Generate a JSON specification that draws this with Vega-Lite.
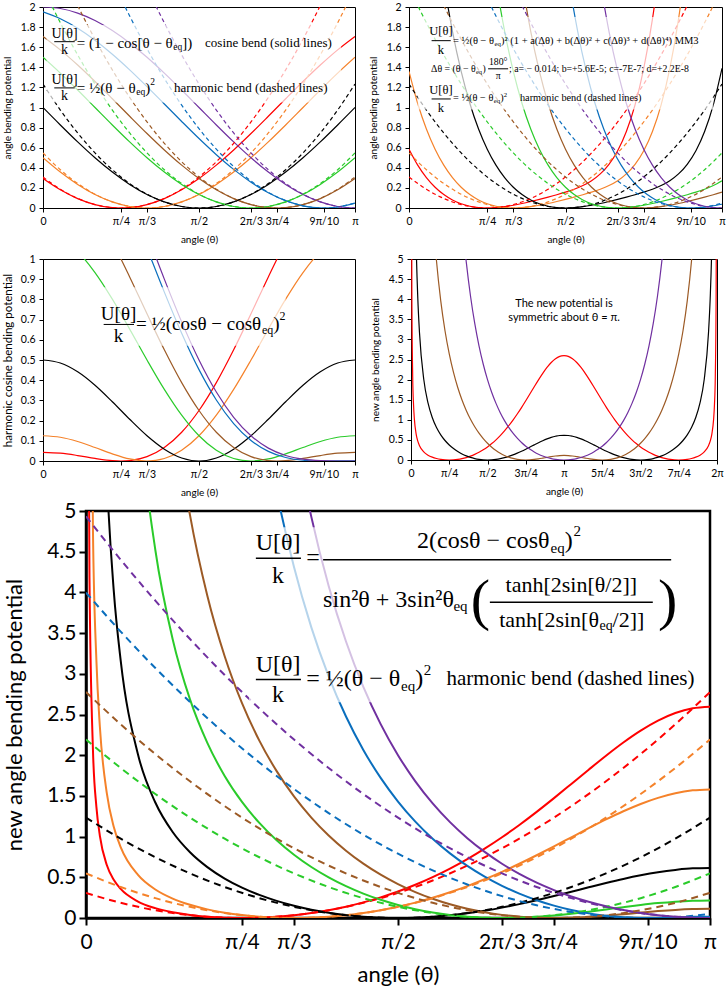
{
"$schema":"https://vega.github.io/schema/vega-lite/v6.json",
"background":"white",
"padding":{"left":1,"top":1,"right":0,"bottom":0},
"config":{"view":{"stroke":"#000","strokeWidth":1},
"axis":{"grid":false,"domainColor":"#000","tickColor":"#000","labelColor":"#000","titleColor":"#000","labelFont":"Lato","titleFont":"Lato","titleFontWeight":"normal","labelFontSize":10.5,"titleFontSize":10,"tickSize":4,"labelPadding":4,"titlePadding":8,"labelOverlap":false,"labelFlush":false},
"text":{"font":"Liberation Serif","color":"#000"}},
"datasets":{
"std":[
{"eq":45,"t":0,"h":0.308426,"c":0.292893,"hc":0.042893},{"eq":45,"t":10,"h":0.186579,"c":0.180848,"hc":0.038559},{"eq":45,"t":20,"h":0.095193,"c":0.093692,"hc":0.027047},{"eq":45,"t":30,"h":0.03427,"c":0.034074,"hc":0.012628},{"eq":45,"t":40,"h":0.003808,"c":0.003805,"hc":0.001736},{"eq":45,"t":45,"h":0,"c":0,"hc":0},{"eq":45,"t":50,"h":0.003808,"c":0.003805,"hc":0.002069},{"eq":45,"t":60,"h":0.03427,"c":0.034074,"hc":0.021447},{"eq":45,"t":70,"h":0.095193,"c":0.093692,"hc":0.066645},{"eq":45,"t":80,"h":0.186579,"c":0.180848,"hc":0.14229},{"eq":45,"t":90,"h":0.308426,"c":0.292893,"hc":0.25},{"eq":45,"t":100,"h":0.460735,"c":0.426424,"hc":0.387869},{"eq":45,"t":110,"h":0.643506,"c":0.577382,"hc":0.550337},{"eq":45,"t":120,"h":0.856738,"c":0.741181,"hc":0.728557},{"eq":45,"t":130,"h":1.100432,"c":0.912844,"hc":0.911115},{"eq":45,"t":140,"h":1.374589,"c":1.087156,"hc":1.085086},{"eq":45,"t":150,"h":1.679207,"c":1.258819,"hc":1.237385},{"eq":45,"t":160,"h":2.014287,"c":1.422618,"hc":1.355975},{"eq":45,"t":170,"h":2.379828,"c":1.573576,"hc":1.431297},{"eq":45,"t":180,"h":2.775832,"c":1.707107,"hc":1.457112},
{"eq":60,"t":0,"h":0.548312,"c":0.5,"hc":0.125},{"eq":60,"t":10,"h":0.380773,"c":0.357212,"hc":0.117522},{"eq":60,"t":20,"h":0.243694,"c":0.233956,"hc":0.096664},{"eq":60,"t":30,"h":0.137078,"c":0.133975,"hc":0.066989},{"eq":60,"t":40,"h":0.060924,"c":0.060307,"hc":0.035389},{"eq":60,"t":50,"h":0.015231,"c":0.015192,"hc":0.010194},{"eq":60,"t":60,"h":0,"c":0,"hc":0},{"eq":60,"t":70,"h":0.015231,"c":0.015192,"hc":0.012479},{"eq":60,"t":80,"h":0.060924,"c":0.060307,"hc":0.053252},{"eq":60,"t":90,"h":0.137078,"c":0.133975,"hc":0.125},{"eq":60,"t":100,"h":0.243694,"c":0.233956,"hc":0.226903},{"eq":60,"t":110,"h":0.380773,"c":0.357212,"hc":0.354499},{"eq":60,"t":120,"h":0.548312,"c":0.5,"hc":0.5},{"eq":60,"t":130,"h":0.746314,"c":0.65798,"hc":0.652985},{"eq":60,"t":140,"h":0.974778,"c":0.826352,"hc":0.801431},{"eq":60,"t":150,"h":1.233703,"c":1.0,"hc":0.933018},{"eq":60,"t":160,"h":1.52309,"c":1.173648,"hc":1.036358},{"eq":60,"t":170,"h":1.842939,"c":1.34202,"hc":1.10233},{"eq":60,"t":180,"h":2.19325,"c":1.5,"hc":1.125},
{"eq":90,"t":0,"h":1.233703,"c":1,"hc":0.5},{"eq":90,"t":10,"h":0.974778,"c":0.826352,"hc":0.484925},{"eq":90,"t":20,"h":0.746314,"c":0.65798,"hc":0.441511},{"eq":90,"t":30,"h":0.548312,"c":0.5,"hc":0.375},{"eq":90,"t":40,"h":0.380773,"c":0.357212,"hc":0.293409},{"eq":90,"t":50,"h":0.243694,"c":0.233956,"hc":0.206589},{"eq":90,"t":60,"h":0.137078,"c":0.133975,"hc":0.125},{"eq":90,"t":70,"h":0.060924,"c":0.060307,"hc":0.058489},{"eq":90,"t":80,"h":0.015231,"c":0.015192,"hc":0.015077},{"eq":90,"t":90,"h":0,"c":0,"hc":0},{"eq":90,"t":100,"h":0.015231,"c":0.015192,"hc":0.015077},{"eq":90,"t":110,"h":0.060924,"c":0.060307,"hc":0.058489},{"eq":90,"t":120,"h":0.137078,"c":0.133975,"hc":0.125},{"eq":90,"t":130,"h":0.243694,"c":0.233956,"hc":0.206589},{"eq":90,"t":140,"h":0.380773,"c":0.357212,"hc":0.293409},{"eq":90,"t":150,"h":0.548312,"c":0.5,"hc":0.375},{"eq":90,"t":160,"h":0.746314,"c":0.65798,"hc":0.441511},{"eq":90,"t":170,"h":0.974778,"c":0.826352,"hc":0.484925},{"eq":90,"t":180,"h":1.233703,"c":1,"hc":0.5},
{"eq":120,"t":0,"h":2.19325,"c":1.5,"hc":1.125},{"eq":120,"t":10,"h":1.842939,"c":1.34202,"hc":1.10233},{"eq":120,"t":20,"h":1.52309,"c":1.173648,"hc":1.036358},{"eq":120,"t":30,"h":1.233703,"c":1.0,"hc":0.933018},{"eq":120,"t":40,"h":0.974778,"c":0.826352,"hc":0.801431},{"eq":120,"t":50,"h":0.746314,"c":0.65798,"hc":0.652985},{"eq":120,"t":60,"h":0.548312,"c":0.5,"hc":0.5},{"eq":120,"t":70,"h":0.380773,"c":0.357212,"hc":0.354499},{"eq":120,"t":80,"h":0.243694,"c":0.233956,"hc":0.226903},{"eq":120,"t":90,"h":0.137078,"c":0.133975,"hc":0.125},{"eq":120,"t":100,"h":0.060924,"c":0.060307,"hc":0.053252},{"eq":120,"t":110,"h":0.015231,"c":0.015192,"hc":0.012479},{"eq":120,"t":120,"h":0,"c":0,"hc":0},{"eq":120,"t":130,"h":0.015231,"c":0.015192,"hc":0.010194},{"eq":120,"t":140,"h":0.060924,"c":0.060307,"hc":0.035389},{"eq":120,"t":150,"h":0.137078,"c":0.133975,"hc":0.066989},{"eq":120,"t":160,"h":0.243694,"c":0.233956,"hc":0.096664},{"eq":120,"t":170,"h":0.380773,"c":0.357212,"hc":0.117522},{"eq":120,"t":180,"h":0.548312,"c":0.5,"hc":0.125},
{"eq":135,"t":0,"h":2.775832,"c":1.707107,"hc":1.457112},{"eq":135,"t":10,"h":2.379828,"c":1.573576,"hc":1.431297},{"eq":135,"t":20,"h":2.014287,"c":1.422618,"hc":1.355975},{"eq":135,"t":30,"h":1.679207,"c":1.258819,"hc":1.237385},{"eq":135,"t":40,"h":1.374589,"c":1.087156,"hc":1.085086},{"eq":135,"t":50,"h":1.100432,"c":0.912844,"hc":0.911115},{"eq":135,"t":60,"h":0.856738,"c":0.741181,"hc":0.728557},{"eq":135,"t":70,"h":0.643506,"c":0.577382,"hc":0.550337},{"eq":135,"t":80,"h":0.460735,"c":0.426424,"hc":0.387869},{"eq":135,"t":90,"h":0.308426,"c":0.292893,"hc":0.25},{"eq":135,"t":100,"h":0.186579,"c":0.180848,"hc":0.14229},{"eq":135,"t":110,"h":0.095193,"c":0.093692,"hc":0.066645},{"eq":135,"t":120,"h":0.03427,"c":0.034074,"hc":0.021447},{"eq":135,"t":130,"h":0.003808,"c":0.003805,"hc":0.002069},{"eq":135,"t":135,"h":0,"c":0,"hc":0},{"eq":135,"t":140,"h":0.003808,"c":0.003805,"hc":0.001736},{"eq":135,"t":150,"h":0.03427,"c":0.034074,"hc":0.012628},{"eq":135,"t":160,"h":0.095193,"c":0.093692,"hc":0.027047},{"eq":135,"t":170,"h":0.186579,"c":0.180848,"hc":0.038559},{"eq":135,"t":180,"h":0.308426,"c":0.292893,"hc":0.042893},
{"eq":162,"t":0,"h":3.997392,"c":1.951057,"hc":1.903318},{"eq":162,"t":10,"h":3.518947,"c":1.882948,"hc":1.873796},{"eq":162,"t":20,"h":3.071159,"c":1.788011,"hc":1.787478},{"eq":162,"t":30,"h":2.653832,"c":1.669131,"hc":1.650908},{"eq":162,"t":40,"h":2.266967,"c":1.529919,"hc":1.474222},{"eq":162,"t":50,"h":1.910564,"c":1.374607,"hc":1.270179},{"eq":162,"t":60,"h":1.584622,"c":1.207912,"hc":1.052788},{"eq":162,"t":70,"h":1.289143,"c":1.034899,"hc":0.836028},{"eq":162,"t":80,"h":1.024126,"c":0.860828,"hc":0.632486},{"eq":162,"t":90,"h":0.78957,"c":0.690983,"hc":0.452258},{"eq":162,"t":100,"h":0.585476,"c":0.530528,"hc":0.302183},{"eq":162,"t":110,"h":0.411844,"c":0.384339,"hc":0.185465},{"eq":162,"t":120,"h":0.268673,"c":0.256855,"hc":0.101728},{"eq":162,"t":130,"h":0.155964,"c":0.151952,"hc":0.047515},{"eq":162,"t":140,"h":0.073718,"c":0.072816,"hc":0.017116},{"eq":162,"t":150,"h":0.021932,"c":0.021852,"hc":0.003615},{"eq":162,"t":160,"h":0.000609,"c":0.000609,"hc":0.000065},{"eq":162,"t":162,"h":0,"c":0,"hc":0},{"eq":162,"t":170,"h":0.009748,"c":0.009732,"hc":0.00057},{"eq":162,"t":180,"h":0.049348,"c":0.048943,"hc":0.001198},
{"eq":180,"t":0,"h":4.934812,"c":2,"hc":2},{"eq":180,"t":10,"h":4.40173,"c":1.984808,"hc":1.969735},{"eq":180,"t":20,"h":3.89911,"c":1.939693,"hc":1.881199},{"eq":180,"t":30,"h":3.426953,"c":1.866025,"hc":1.741034},{"eq":180,"t":40,"h":2.985256,"c":1.766044,"hc":1.559449},{"eq":180,"t":50,"h":2.574022,"c":1.642788,"hc":1.349379},{"eq":180,"t":60,"h":2.19325,"c":1.5,"hc":1.125},{"eq":180,"t":70,"h":1.842939,"c":1.34202,"hc":0.900509},{"eq":180,"t":80,"h":1.52309,"c":1.173648,"hc":0.688727},{"eq":180,"t":90,"h":1.233703,"c":1,"hc":0.5},{"eq":180,"t":100,"h":0.974778,"c":0.826352,"hc":0.341427},{"eq":180,"t":110,"h":0.746314,"c":0.65798,"hc":0.216469},{"eq":180,"t":120,"h":0.548312,"c":0.5,"hc":0.125},{"eq":180,"t":130,"h":0.380773,"c":0.357212,"hc":0.0638},{"eq":180,"t":140,"h":0.243694,"c":0.233956,"hc":0.027369},{"eq":180,"t":150,"h":0.137078,"c":0.133975,"hc":0.008974},{"eq":180,"t":160,"h":0.060924,"c":0.060307,"hc":0.001819},{"eq":180,"t":170,"h":0.015231,"c":0.015192,"hc":0.000115},{"eq":180,"t":180,"h":0,"c":0,"hc":0}
],
"mm3":[
{"eq":45,"t":0,"u":0.585208},{"eq":45,"t":5,"u":0.42664},{"eq":45,"t":10,"u":0.302562},{"eq":45,"t":15,"u":0.206593},{"eq":45,"t":20,"u":0.133701},{"eq":45,"t":25,"u":0.079903},{"eq":45,"t":30,"u":0.042018},{"eq":45,"t":35,"u":0.017463},{"eq":45,"t":40,"u":0.00408},{"eq":45,"t":45,"u":0},{"eq":45,"t":50,"u":0.003546},{"eq":45,"t":55,"u":0.013177},{"eq":45,"t":60,"u":0.027462},{"eq":45,"t":65,"u":0.045103},{"eq":45,"t":70,"u":0.064985},{"eq":45,"t":75,"u":0.086266},{"eq":45,"t":80,"u":0.108514},{"eq":45,"t":85,"u":0.131868},{"eq":45,"t":90,"u":0.157245},{"eq":45,"t":95,"u":0.186579},{"eq":45,"t":100,"u":0.223111},{"eq":45,"t":105,"u":0.2717},{"eq":45,"t":110,"u":0.339179},{"eq":45,"t":115,"u":0.434743},{"eq":45,"t":120,"u":0.570397},{"eq":45,"t":125,"u":0.761419},{"eq":45,"t":130,"u":1.026736},{"eq":45,"t":135,"u":1.390061},{"eq":45,"t":140,"u":1.879257},{"eq":45,"t":145,"u":2.528329},{"eq":45,"t":150,"u":3.37719},
{"eq":60,"t":0,"u":1.358673},{"eq":60,"t":5,"u":1.03996},{"eq":60,"t":10,"u":0.786296},{"eq":60,"t":15,"u":0.585208},{"eq":60,"t":20,"u":0.42664},{"eq":60,"t":25,"u":0.302562},{"eq":60,"t":30,"u":0.206593},{"eq":60,"t":35,"u":0.133701},{"eq":60,"t":40,"u":0.079903},{"eq":60,"t":45,"u":0.042018},{"eq":60,"t":50,"u":0.017463},{"eq":60,"t":55,"u":0.00408},{"eq":60,"t":60,"u":0},{"eq":60,"t":65,"u":0.003546},{"eq":60,"t":70,"u":0.013177},{"eq":60,"t":75,"u":0.027462},{"eq":60,"t":80,"u":0.045103},{"eq":60,"t":85,"u":0.064985},{"eq":60,"t":90,"u":0.086266},{"eq":60,"t":95,"u":0.108514},{"eq":60,"t":100,"u":0.131868},{"eq":60,"t":105,"u":0.157245},{"eq":60,"t":110,"u":0.186579},{"eq":60,"t":115,"u":0.223111},{"eq":60,"t":120,"u":0.2717},{"eq":60,"t":125,"u":0.339179},{"eq":60,"t":130,"u":0.434743},{"eq":60,"t":135,"u":0.570397},{"eq":60,"t":140,"u":0.761419},{"eq":60,"t":145,"u":1.026736},{"eq":60,"t":150,"u":1.390061},{"eq":60,"t":155,"u":1.879257},{"eq":60,"t":160,"u":2.528329},
{"eq":90,"t":15,"u":2.875555},{"eq":90,"t":20,"u":2.255898},{"eq":90,"t":25,"u":1.757769},{"eq":90,"t":30,"u":1.358673},{"eq":90,"t":35,"u":1.03996},{"eq":90,"t":40,"u":0.786296},{"eq":90,"t":45,"u":0.585208},{"eq":90,"t":50,"u":0.42664},{"eq":90,"t":55,"u":0.302562},{"eq":90,"t":60,"u":0.206593},{"eq":90,"t":65,"u":0.133701},{"eq":90,"t":70,"u":0.079903},{"eq":90,"t":75,"u":0.042018},{"eq":90,"t":80,"u":0.017463},{"eq":90,"t":85,"u":0.00408},{"eq":90,"t":90,"u":0},{"eq":90,"t":95,"u":0.003546},{"eq":90,"t":100,"u":0.013177},{"eq":90,"t":105,"u":0.027462},{"eq":90,"t":110,"u":0.045103},{"eq":90,"t":115,"u":0.064985},{"eq":90,"t":120,"u":0.086266},{"eq":90,"t":125,"u":0.108514},{"eq":90,"t":130,"u":0.131868},{"eq":90,"t":135,"u":0.157245},{"eq":90,"t":140,"u":0.186579},{"eq":90,"t":145,"u":0.223111},{"eq":90,"t":150,"u":0.2717},{"eq":90,"t":155,"u":0.339179},{"eq":90,"t":160,"u":0.434743},{"eq":90,"t":165,"u":0.570397},{"eq":90,"t":170,"u":0.761419},{"eq":90,"t":175,"u":1.026736},{"eq":90,"t":180,"u":1.390061},
{"eq":120,"t":45,"u":2.875555},{"eq":120,"t":50,"u":2.255898},{"eq":120,"t":55,"u":1.757769},{"eq":120,"t":60,"u":1.358673},{"eq":120,"t":65,"u":1.03996},{"eq":120,"t":70,"u":0.786296},{"eq":120,"t":75,"u":0.585208},{"eq":120,"t":80,"u":0.42664},{"eq":120,"t":85,"u":0.302562},{"eq":120,"t":90,"u":0.206593},{"eq":120,"t":95,"u":0.133701},{"eq":120,"t":100,"u":0.079903},{"eq":120,"t":105,"u":0.042018},{"eq":120,"t":110,"u":0.017463},{"eq":120,"t":115,"u":0.00408},{"eq":120,"t":120,"u":0},{"eq":120,"t":125,"u":0.003546},{"eq":120,"t":130,"u":0.013177},{"eq":120,"t":135,"u":0.027462},{"eq":120,"t":140,"u":0.045103},{"eq":120,"t":145,"u":0.064985},{"eq":120,"t":150,"u":0.086266},{"eq":120,"t":155,"u":0.108514},{"eq":120,"t":160,"u":0.131868},{"eq":120,"t":165,"u":0.157245},{"eq":120,"t":170,"u":0.186579},{"eq":120,"t":175,"u":0.223111},{"eq":120,"t":180,"u":0.2717},
{"eq":135,"t":60,"u":2.875555},{"eq":135,"t":65,"u":2.255898},{"eq":135,"t":70,"u":1.757769},{"eq":135,"t":75,"u":1.358673},{"eq":135,"t":80,"u":1.03996},{"eq":135,"t":85,"u":0.786296},{"eq":135,"t":90,"u":0.585208},{"eq":135,"t":95,"u":0.42664},{"eq":135,"t":100,"u":0.302562},{"eq":135,"t":105,"u":0.206593},{"eq":135,"t":110,"u":0.133701},{"eq":135,"t":115,"u":0.079903},{"eq":135,"t":120,"u":0.042018},{"eq":135,"t":125,"u":0.017463},{"eq":135,"t":130,"u":0.00408},{"eq":135,"t":135,"u":0},{"eq":135,"t":140,"u":0.003546},{"eq":135,"t":145,"u":0.013177},{"eq":135,"t":150,"u":0.027462},{"eq":135,"t":155,"u":0.045103},{"eq":135,"t":160,"u":0.064985},{"eq":135,"t":165,"u":0.086266},{"eq":135,"t":170,"u":0.108514},{"eq":135,"t":175,"u":0.131868},{"eq":135,"t":180,"u":0.157245},
{"eq":162,"t":87,"u":2.875555},{"eq":162,"t":92,"u":2.255898},{"eq":162,"t":97,"u":1.757769},{"eq":162,"t":102,"u":1.358673},{"eq":162,"t":107,"u":1.03996},{"eq":162,"t":112,"u":0.786296},{"eq":162,"t":117,"u":0.585208},{"eq":162,"t":122,"u":0.42664},{"eq":162,"t":127,"u":0.302562},{"eq":162,"t":132,"u":0.206593},{"eq":162,"t":137,"u":0.133701},{"eq":162,"t":142,"u":0.079903},{"eq":162,"t":147,"u":0.042018},{"eq":162,"t":152,"u":0.017463},{"eq":162,"t":157,"u":0.00408},{"eq":162,"t":162,"u":0},{"eq":162,"t":167,"u":0.003546},{"eq":162,"t":172,"u":0.013177},{"eq":162,"t":177,"u":0.027462},{"eq":162,"t":180,"u":0.03772},
{"eq":180,"t":105,"u":2.875555},{"eq":180,"t":110,"u":2.255898},{"eq":180,"t":115,"u":1.757769},{"eq":180,"t":120,"u":1.358673},{"eq":180,"t":125,"u":1.03996},{"eq":180,"t":130,"u":0.786296},{"eq":180,"t":135,"u":0.585208},{"eq":180,"t":140,"u":0.42664},{"eq":180,"t":145,"u":0.302562},{"eq":180,"t":150,"u":0.206593},{"eq":180,"t":155,"u":0.133701},{"eq":180,"t":160,"u":0.079903},{"eq":180,"t":165,"u":0.042018},{"eq":180,"t":170,"u":0.017463},{"eq":180,"t":175,"u":0.00408},{"eq":180,"t":180,"u":0}
],
"newpot":[
{"eq":45,"t":0.5,"u":8.41},{"eq":45,"t":1,"u":4.186},{"eq":45,"t":2,"u":2.072},{"eq":45,"t":3,"u":1.366},{"eq":45,"t":4,"u":1.01},{"eq":45,"t":6,"u":0.651},{"eq":45,"t":8,"u":0.4687},{"eq":45,"t":10,"u":0.3571},{"eq":45,"t":15,"u":0.2026},{"eq":45,"t":20,"u":0.1209},{"eq":45,"t":25,"u":0.07036},{"eq":45,"t":30,"u":0.03719},{"eq":45,"t":35,"u":0.01587},{"eq":45,"t":40,"u":0.00387},{"eq":45,"t":45,"u":0},{"eq":45,"t":50,"u":0.00378},{"eq":45,"t":55,"u":0.01508},{"eq":45,"t":60,"u":0.034},{"eq":45,"t":65,"u":0.06077},{"eq":45,"t":70,"u":0.09572},{"eq":45,"t":75,"u":0.13925},{"eq":45,"t":80,"u":0.1918},{"eq":45,"t":85,"u":0.25384},{"eq":45,"t":90,"u":0.32589},{"eq":45,"t":95,"u":0.40846},{"eq":45,"t":100,"u":0.50201},{"eq":45,"t":105,"u":0.60697},{"eq":45,"t":110,"u":0.72365},{"eq":45,"t":115,"u":0.85214},{"eq":45,"t":120,"u":0.99223},{"eq":45,"t":125,"u":1.14333},{"eq":45,"t":130,"u":1.30422},{"eq":45,"t":135,"u":1.473},{"eq":45,"t":140,"u":1.64688},{"eq":45,"t":145,"u":1.82206},{"eq":45,"t":150,"u":1.99364},{"eq":45,"t":155,"u":2.15572},{"eq":45,"t":160,"u":2.30168},{"eq":45,"t":165,"u":2.4247},{"eq":45,"t":170,"u":2.5182},{"eq":45,"t":175,"u":2.57667},{"eq":45,"t":180,"u":2.59658},
{"eq":60,"t":1,"u":9.635},{"eq":60,"t":2,"u":4.783},{"eq":60,"t":3,"u":3.163},{"eq":60,"t":4,"u":2.3496},{"eq":60,"t":6,"u":1.533},{"eq":60,"t":8,"u":1.1209},{"eq":60,"t":10,"u":0.8706},{"eq":60,"t":15,"u":0.5287},{"eq":60,"t":20,"u":0.3503},{"eq":60,"t":25,"u":0.2387},{"eq":60,"t":30,"u":0.1618},{"eq":60,"t":35,"u":0.1062},{"eq":60,"t":40,"u":0.06528},{"eq":60,"t":45,"u":0.0357},{"eq":60,"t":50,"u":0.01556},{"eq":60,"t":55,"u":0.00384},{"eq":60,"t":60,"u":0},{"eq":60,"t":65,"u":0.00379},{"eq":60,"t":70,"u":0.01514},{"eq":60,"t":75,"u":0.0341},{"eq":60,"t":80,"u":0.06078},{"eq":60,"t":85,"u":0.09534},{"eq":60,"t":90,"u":0.13795},{"eq":60,"t":95,"u":0.18877},{"eq":60,"t":100,"u":0.24794},{"eq":60,"t":105,"u":0.31552},{"eq":60,"t":110,"u":0.39145},{"eq":60,"t":115,"u":0.47555},{"eq":60,"t":120,"u":0.56738},{"eq":60,"t":125,"u":0.66622},{"eq":60,"t":130,"u":0.77098},{"eq":60,"t":135,"u":0.88012},{"eq":60,"t":140,"u":0.99158},{"eq":60,"t":145,"u":1.10279},{"eq":60,"t":150,"u":1.2106},{"eq":60,"t":155,"u":1.31134},{"eq":60,"t":160,"u":1.40118},{"eq":60,"t":165,"u":1.47621},{"eq":60,"t":170,"u":1.53282},{"eq":60,"t":175,"u":1.56805},{"eq":60,"t":180,"u":1.58002},
{"eq":90,"t":2,"u":16.78},{"eq":90,"t":4,"u":8.287},{"eq":90,"t":6,"u":5.448},{"eq":90,"t":8,"u":4.024},{"eq":90,"t":10,"u":3.165},{"eq":90,"t":15,"u":2.0086},{"eq":90,"t":20,"u":1.4187},{"eq":90,"t":25,"u":1.0561},{"eq":90,"t":30,"u":0.80776},{"eq":90,"t":35,"u":0.62536},{"eq":90,"t":40,"u":0.48507},{"eq":90,"t":45,"u":0.37377},{"eq":90,"t":50,"u":0.28377},{"eq":90,"t":55,"u":0.21036},{"eq":90,"t":60,"u":0.15052},{"eq":90,"t":65,"u":0.10226},{"eq":90,"t":70,"u":0.06425},{"eq":90,"t":75,"u":0.03557},{"eq":90,"t":80,"u":0.01559},{"eq":90,"t":85,"u":0.00385},{"eq":90,"t":90,"u":0},{"eq":90,"t":95,"u":0.00377},{"eq":90,"t":100,"u":0.01491},{"eq":90,"t":105,"u":0.03317},{"eq":90,"t":110,"u":0.05828},{"eq":90,"t":115,"u":0.08987},{"eq":90,"t":120,"u":0.12749},{"eq":90,"t":125,"u":0.17051},{"eq":90,"t":130,"u":0.21812},{"eq":90,"t":135,"u":0.26931},{"eq":90,"t":140,"u":0.32277},{"eq":90,"t":145,"u":0.37695},{"eq":90,"t":150,"u":0.43004},{"eq":90,"t":155,"u":0.48004},{"eq":90,"t":160,"u":0.52483},{"eq":90,"t":165,"u":0.56236},{"eq":90,"t":170,"u":0.5907},{"eq":90,"t":175,"u":0.61003},{"eq":90,"t":180,"u":0.61436},
{"eq":120,"t":10,"u":9.941},{"eq":120,"t":15,"u":6.335},{"eq":120,"t":20,"u":4.521},{"eq":120,"t":25,"u":3.4237},{"eq":120,"t":30,"u":2.6851},{"eq":120,"t":35,"u":2.1511},{"eq":120,"t":40,"u":1.7456},{"eq":120,"t":45,"u":1.4263},{"eq":120,"t":50,"u":1.168},{"eq":120,"t":55,"u":0.95498},{"eq":120,"t":60,"u":0.7769},{"eq":120,"t":65,"u":0.62667},{"eq":120,"t":70,"u":0.49936},{"eq":120,"t":75,"u":0.39136},{"eq":120,"t":80,"u":0.30003},{"eq":120,"t":85,"u":0.22337},{"eq":120,"t":90,"u":0.15984},{"eq":120,"t":95,"u":0.10824},{"eq":120,"t":100,"u":0.06759},{"eq":120,"t":105,"u":0.0371},{"eq":120,"t":110,"u":0.01608},{"eq":120,"t":115,"u":0.00392},{"eq":120,"t":120,"u":0},{"eq":120,"t":125,"u":0.00369},{"eq":120,"t":130,"u":0.01427},{"eq":120,"t":135,"u":0.03087},{"eq":120,"t":140,"u":0.05244},{"eq":120,"t":145,"u":0.07772},{"eq":120,"t":150,"u":0.1052},{"eq":120,"t":155,"u":0.13316},{"eq":120,"t":160,"u":0.15971},{"eq":120,"t":165,"u":0.18294},{"eq":120,"t":170,"u":0.20105},{"eq":120,"t":175,"u":0.21256},{"eq":120,"t":180,"u":0.21652},
{"eq":135,"t":20,"u":8.429},{"eq":135,"t":25,"u":6.339},{"eq":135,"t":30,"u":4.9487},{"eq":135,"t":35,"u":3.9577},{"eq":135,"t":40,"u":3.2156},{"eq":135,"t":45,"u":2.6393},{"eq":135,"t":50,"u":2.1794},{"eq":135,"t":55,"u":1.8045},{"eq":135,"t":60,"u":1.494},{"eq":135,"t":65,"u":1.2339},{"eq":135,"t":70,"u":1.0141},{"eq":135,"t":75,"u":0.82733},{"eq":135,"t":80,"u":0.66806},{"eq":135,"t":85,"u":0.53222},{"eq":135,"t":90,"u":0.41659},{"eq":135,"t":95,"u":0.31871},{"eq":135,"t":100,"u":0.2366},{"eq":135,"t":105,"u":0.16868},{"eq":135,"t":110,"u":0.1137},{"eq":135,"t":115,"u":0.07058},{"eq":135,"t":120,"u":0.03846},{"eq":135,"t":125,"u":0.01652},{"eq":135,"t":130,"u":0.00398},{"eq":135,"t":135,"u":0},{"eq":135,"t":140,"u":0.00362},{"eq":135,"t":145,"u":0.01366},{"eq":135,"t":150,"u":0.02867},{"eq":135,"t":155,"u":0.04688},{"eq":135,"t":160,"u":0.06625},{"eq":135,"t":165,"u":0.08454},{"eq":135,"t":170,"u":0.09957},{"eq":135,"t":175,"u":0.10945},{"eq":135,"t":180,"u":0.1129},
{"eq":162,"t":40,"u":9.994},{"eq":162,"t":45,"u":7.949},{"eq":162,"t":50,"u":6.4166},{"eq":162,"t":55,"u":5.2377},{"eq":162,"t":60,"u":4.3115},{"eq":162,"t":65,"u":3.5707},{"eq":162,"t":70,"u":2.9694},{"eq":162,"t":75,"u":2.4752},{"eq":162,"t":80,"u":2.0648},{"eq":162,"t":85,"u":1.7209},{"eq":162,"t":90,"u":1.4307},{"eq":162,"t":95,"u":1.1842},{"eq":162,"t":100,"u":0.974},{"eq":162,"t":105,"u":0.79417},{"eq":162,"t":110,"u":0.64005},{"eq":162,"t":115,"u":0.50801},{"eq":162,"t":120,"u":0.3952},{"eq":162,"t":125,"u":0.29933},{"eq":162,"t":130,"u":0.21869},{"eq":162,"t":135,"u":0.15195},{"eq":162,"t":140,"u":0.09818},{"eq":162,"t":145,"u":0.05669},{"eq":162,"t":150,"u":0.027},{"eq":162,"t":155,"u":0.00862},{"eq":162,"t":160,"u":0.00064},{"eq":162,"t":162,"u":0},{"eq":162,"t":165,"u":0.00125},{"eq":162,"t":170,"u":0.00719},{"eq":162,"t":175,"u":0.01383},{"eq":162,"t":180,"u":0.01669},
{"eq":180,"t":50,"u":9.198},{"eq":180,"t":55,"u":7.38},{"eq":180,"t":60,"u":6.0},{"eq":180,"t":65,"u":4.928},{"eq":180,"t":70,"u":4.0792},{"eq":180,"t":75,"u":3.3968},{"eq":180,"t":80,"u":2.8406},{"eq":180,"t":85,"u":2.3819},{"eq":180,"t":90,"u":2.0},{"eq":180,"t":95,"u":1.6793},{"eq":180,"t":100,"u":1.4082},{"eq":180,"t":105,"u":1.1776},{"eq":180,"t":110,"u":0.98058},{"eq":180,"t":115,"u":0.81172},{"eq":180,"t":120,"u":0.66667},{"eq":180,"t":125,"u":0.54198},{"eq":180,"t":130,"u":0.43488},{"eq":180,"t":135,"u":0.34315},{"eq":180,"t":140,"u":0.26496},{"eq":180,"t":145,"u":0.19883},{"eq":180,"t":150,"u":0.14359},{"eq":180,"t":155,"u":0.0983},{"eq":180,"t":160,"u":0.06218},{"eq":180,"t":165,"u":0.03466},{"eq":180,"t":170,"u":0.01531},{"eq":180,"t":175,"u":0.00382},{"eq":180,"t":180,"u":0}
]},
"concat":[
{"vconcat":[
{"hconcat":[
{"width":312,"height":201,"layer":[
{"data":{"name":"std"},"mark":{"type":"line","clip":true,"interpolate":"monotone","strokeWidth":1.2},"encoding":{"x":{"field":"t","type":"quantitative","title":"angle (θ)","scale":{"domain":[0,180],"nice":false},"axis":{"values":[0,45,60,90,120,135,162,180],"tickCount":20,"labelExpr":"datum.value==0?'0':datum.value==45?'π/4':datum.value==60?'π/3':datum.value==90?'π/2':datum.value==120?'2π/3':datum.value==135?'3π/4':datum.value==162?'9π/10':'π'"}},"y":{"field":"c","type":"quantitative","title":"angle bending potential","scale":{"domain":[0,2],"nice":false},"axis":{"values":[0,0.2,0.4,0.6,0.8,1,1.2,1.4,1.6,1.8,2],"tickCount":20,"format":"~g"}},"color":{"field":"eq","type":"nominal","scale":{"domain":[45,60,90,120,135,162,180],"range":["#FF0000","#F5822A","#000000","#2ACB2A","#9C5A25","#0A6EBD","#7030A0"]},"legend":null}}},
{"data":{"name":"std"},"mark":{"type":"line","clip":true,"interpolate":"monotone","strokeWidth":1.2,"strokeDash":[4,3]},"encoding":{"x":{"field":"t","type":"quantitative","title":"angle (θ)"},"y":{"field":"h","type":"quantitative","title":"angle bending potential"},"color":{"field":"eq","type":"nominal","scale":{"domain":[45,60,90,120,135,162,180],"range":["#FF0000","#F5822A","#000000","#2ACB2A","#9C5A25","#0A6EBD","#7030A0"]},"legend":null}}},
{"data":{"values":[{}]},"mark":{"type":"rect","fill":"white","opacity":0.7},"encoding":{"x":{"datum":2},"x2":{"datum":172},"y":{"datum":1.05},"y2":{"datum":1.82}}},
{"data":{"values":[{}]},"mark":{"type":"text","text":"U[θ]","fontSize":14},"encoding":{"x":{"datum":12.4},"y":{"datum":1.735}}},
{"data":{"values":[{}]},"mark":{"type":"rule","color":"#000"},"encoding":{"x":{"datum":6.5},"x2":{"datum":18.3},"y":{"datum":1.655}}},
{"data":{"values":[{}]},"mark":{"type":"text","text":"k","fontSize":14},"encoding":{"x":{"datum":12.4},"y":{"datum":1.575}}},
{"data":{"values":[{}]},"mark":{"type":"text","text":"= (1 − cos[θ − θ","fontSize":15,"align":"left"},"encoding":{"x":{"datum":19.5},"y":{"datum":1.645}}},
{"data":{"values":[{}]},"mark":{"type":"text","text":"eq","fontSize":9.5,"align":"left"},"encoding":{"x":{"datum":75.2},"y":{"datum":1.605}}},
{"data":{"values":[{}]},"mark":{"type":"text","text":"])","fontSize":15,"align":"left"},"encoding":{"x":{"datum":80.4},"y":{"datum":1.645}}},
{"data":{"values":[{}]},"mark":{"type":"text","text":"cosine bend (solid lines)","fontSize":13,"align":"left"},"encoding":{"x":{"datum":93.5},"y":{"datum":1.645}}},
{"data":{"values":[{}]},"mark":{"type":"text","text":"U[θ]","fontSize":14},"encoding":{"x":{"datum":12.4},"y":{"datum":1.275}}},
{"data":{"values":[{}]},"mark":{"type":"rule","color":"#000"},"encoding":{"x":{"datum":6.5},"x2":{"datum":18.3},"y":{"datum":1.195}}},
{"data":{"values":[{}]},"mark":{"type":"text","text":"k","fontSize":14},"encoding":{"x":{"datum":12.4},"y":{"datum":1.115}}},
{"data":{"values":[{}]},"mark":{"type":"text","text":"= ½(θ − θ","fontSize":15,"align":"left"},"encoding":{"x":{"datum":19.5},"y":{"datum":1.195}}},
{"data":{"values":[{}]},"mark":{"type":"text","text":"eq","fontSize":9.5,"align":"left"},"encoding":{"x":{"datum":53.8},"y":{"datum":1.155}}},
{"data":{"values":[{}]},"mark":{"type":"text","text":")","fontSize":15,"align":"left"},"encoding":{"x":{"datum":59.0},"y":{"datum":1.195}}},
{"data":{"values":[{}]},"mark":{"type":"text","text":"2","fontSize":9.5,"align":"left"},"encoding":{"x":{"datum":61.9},"y":{"datum":1.255}}},
{"data":{"values":[{}]},"mark":{"type":"text","text":"harmonic bend (dashed lines)","fontSize":13,"align":"left"},"encoding":{"x":{"datum":75.6},"y":{"datum":1.195}}}
]},
{"width":313,"height":201,"layer":[
{"data":{"name":"mm3"},"mark":{"type":"line","clip":true,"interpolate":"monotone","strokeWidth":1.2},"encoding":{"x":{"field":"t","type":"quantitative","title":"angle (θ)","scale":{"domain":[0,180],"nice":false},"axis":{"values":[0,45,60,90,120,135,162,180],"tickCount":20,"labelExpr":"datum.value==0?'0':datum.value==45?'π/4':datum.value==60?'π/3':datum.value==90?'π/2':datum.value==120?'2π/3':datum.value==135?'3π/4':datum.value==162?'9π/10':'π'"}},"y":{"field":"u","type":"quantitative","title":"angle bending potential","scale":{"domain":[0,2],"nice":false},"axis":{"values":[0,0.2,0.4,0.6,0.8,1,1.2,1.4,1.6,1.8,2],"tickCount":20,"format":"~g"}},"color":{"field":"eq","type":"nominal","scale":{"domain":[45,60,90,120,135,162,180],"range":["#FF0000","#F5822A","#000000","#2ACB2A","#9C5A25","#0A6EBD","#7030A0"]},"legend":null}}},
{"data":{"name":"std"},"mark":{"type":"line","clip":true,"interpolate":"monotone","strokeWidth":1.2,"strokeDash":[4,3]},"encoding":{"x":{"field":"t","type":"quantitative","title":"angle (θ)"},"y":{"field":"h","type":"quantitative","title":"angle bending potential"},"color":{"field":"eq","type":"nominal","scale":{"domain":[45,60,90,120,135,162,180],"range":["#FF0000","#F5822A","#000000","#2ACB2A","#9C5A25","#0A6EBD","#7030A0"]},"legend":null}}},
{"data":{"values":[{}]},"mark":{"type":"rect","fill":"white","opacity":0.7},"encoding":{"x":{"datum":5},"x2":{"datum":175},"y":{"datum":0.98},"y2":{"datum":1.9}}},
{"data":{"values":[{}]},"mark":{"type":"text","text":"U[θ]","fontSize":12.5},"encoding":{"x":{"datum":18.4},"y":{"datum":1.76}}},
{"data":{"values":[{}]},"mark":{"type":"rule","color":"#000"},"encoding":{"x":{"datum":13},"x2":{"datum":24},"y":{"datum":1.665}}},
{"data":{"values":[{}]},"mark":{"type":"text","text":"k","fontSize":12.5},"encoding":{"x":{"datum":18.4},"y":{"datum":1.57}}},
{"data":{"values":[{}]},"mark":{"type":"text","text":"= ½(θ − θ","fontSize":10.5,"align":"left"},"encoding":{"x":{"datum":25.3},"y":{"datum":1.66}}},
{"data":{"values":[{}]},"mark":{"type":"text","text":"eq","fontSize":6.8,"align":"left"},"encoding":{"x":{"datum":49.2},"y":{"datum":1.63}}},
{"data":{"values":[{}]},"mark":{"type":"text","text":")² (1 + a(Δθ) + b(Δθ)² + c(Δθ)³ + d(Δθ)⁴)   MM3","fontSize":10.5,"align":"left"},"encoding":{"x":{"datum":52.9},"y":{"datum":1.66}}},
{"data":{"values":[{}]},"mark":{"type":"text","text":"Δθ = (θ − θ","fontSize":9.8,"align":"left"},"encoding":{"x":{"datum":12.7},"y":{"datum":1.385}}},
{"data":{"values":[{}]},"mark":{"type":"text","text":"eq","fontSize":6.5,"align":"left"},"encoding":{"x":{"datum":38.5},"y":{"datum":1.355}}},
{"data":{"values":[{}]},"mark":{"type":"text","text":")","fontSize":9.8,"align":"left"},"encoding":{"x":{"datum":42.2},"y":{"datum":1.385}}},
{"data":{"values":[{}]},"mark":{"type":"text","text":"180°","fontSize":9.8},"encoding":{"x":{"datum":51.3},"y":{"datum":1.45}}},
{"data":{"values":[{}]},"mark":{"type":"rule","color":"#000"},"encoding":{"x":{"datum":45.5},"x2":{"datum":57},"y":{"datum":1.385}}},
{"data":{"values":[{}]},"mark":{"type":"text","text":"π","fontSize":9.8},"encoding":{"x":{"datum":51.3},"y":{"datum":1.31}}},
{"data":{"values":[{}]},"mark":{"type":"text","text":"; a= − 0.014; b=+5.6E-5; c=-7E-7; d=+2.2E-8","fontSize":9.8,"align":"left"},"encoding":{"x":{"datum":57.5},"y":{"datum":1.385}}},
{"data":{"values":[{}]},"mark":{"type":"text","text":"U[θ]","fontSize":12.5},"encoding":{"x":{"datum":18.4},"y":{"datum":1.17}}},
{"data":{"values":[{}]},"mark":{"type":"rule","color":"#000"},"encoding":{"x":{"datum":13},"x2":{"datum":24},"y":{"datum":1.085}}},
{"data":{"values":[{}]},"mark":{"type":"text","text":"k","fontSize":12.5},"encoding":{"x":{"datum":18.4},"y":{"datum":1.0}}},
{"data":{"values":[{}]},"mark":{"type":"text","text":"= ½(θ − θ","fontSize":10.3,"align":"left"},"encoding":{"x":{"datum":25.3},"y":{"datum":1.09}}},
{"data":{"values":[{}]},"mark":{"type":"text","text":"eq","fontSize":6.7,"align":"left"},"encoding":{"x":{"datum":48.8},"y":{"datum":1.06}}},
{"data":{"values":[{}]},"mark":{"type":"text","text":")","fontSize":10.3,"align":"left"},"encoding":{"x":{"datum":52.5},"y":{"datum":1.09}}},
{"data":{"values":[{}]},"mark":{"type":"text","text":"2","fontSize":6.7,"align":"left"},"encoding":{"x":{"datum":54.5},"y":{"datum":1.125}}},
{"data":{"values":[{}]},"mark":{"type":"text","text":"harmonic bend (dashed lines)","fontSize":10.3,"align":"left"},"encoding":{"x":{"datum":63.8},"y":{"datum":1.09}}}
]}
],"spacing":8},
{"hconcat":[
{"width":312,"height":202,"layer":[
{"data":{"name":"std"},"mark":{"type":"line","clip":true,"interpolate":"monotone","strokeWidth":1.2},"encoding":{"x":{"field":"t","type":"quantitative","title":"angle (θ)","scale":{"domain":[0,180],"nice":false},"axis":{"values":[0,45,60,90,120,135,162,180],"tickCount":20,"labelExpr":"datum.value==0?'0':datum.value==45?'π/4':datum.value==60?'π/3':datum.value==90?'π/2':datum.value==120?'2π/3':datum.value==135?'3π/4':datum.value==162?'9π/10':'π'"}},"y":{"field":"hc","type":"quantitative","title":"harmonic cosine bending potential","scale":{"domain":[0,1],"nice":false},"axis":{"values":[0,0.1,0.2,0.3,0.4,0.5,0.6,0.7,0.8,0.9,1],"tickCount":20,"format":"~g","titleFontSize":11.5,"titlePadding":7}},"color":{"field":"eq","type":"nominal","scale":{"domain":[45,60,90,120,135,162,180],"range":["#FF0000","#F5822A","#000000","#2ACB2A","#9C5A25","#0A6EBD","#7030A0"]},"legend":null}}},
{"data":{"values":[{}]},"mark":{"type":"rect","fill":"white","opacity":0.7},"encoding":{"x":{"datum":33},"x2":{"datum":140},"y":{"datum":0.57},"y2":{"datum":0.86}}},
{"data":{"values":[{}]},"mark":{"type":"text","text":"U[θ]","fontSize":19},"encoding":{"x":{"datum":43.6},"y":{"datum":0.73}}},
{"data":{"values":[{}]},"mark":{"type":"rule","color":"#000"},"encoding":{"x":{"datum":35},"x2":{"datum":52.5},"y":{"datum":0.676}}},
{"data":{"values":[{}]},"mark":{"type":"text","text":"k","fontSize":19},"encoding":{"x":{"datum":43.6},"y":{"datum":0.62}}},
{"data":{"values":[{}]},"mark":{"type":"text","text":"= ½(cosθ − cosθ","fontSize":19,"align":"left"},"encoding":{"x":{"datum":53.7},"y":{"datum":0.676}}},
{"data":{"values":[{}]},"mark":{"type":"text","text":"eq","fontSize":12,"align":"left"},"encoding":{"x":{"datum":126.3},"y":{"datum":0.65}}},
{"data":{"values":[{}]},"mark":{"type":"text","text":")","fontSize":19,"align":"left"},"encoding":{"x":{"datum":132.8},"y":{"datum":0.676}}},
{"data":{"values":[{}]},"mark":{"type":"text","text":"2","fontSize":12,"align":"left"},"encoding":{"x":{"datum":136.5},"y":{"datum":0.72}}}
]},
{"width":306,"height":201,"resolve":{"scale":{"x":"independent"}},"layer":[
{"data":{"name":"newpot"},"transform":[{"filter":{"field":"eq","oneOf":[45,90,135,180]}}],"mark":{"type":"line","clip":true,"interpolate":"monotone","strokeWidth":1.2},"encoding":{"x":{"field":"t","type":"quantitative","title":"angle (θ)","scale":{"domain":[0,360],"nice":false},"axis":{"values":[0,45,90,135,180,225,270,315,360],"tickCount":20,"labelExpr":"datum.value==0?'0':datum.value==45?'π/4':datum.value==90?'π/2':datum.value==135?'3π/4':datum.value==180?'π':datum.value==225?'5π/4':datum.value==270?'3π/2':datum.value==315?'7π/4':'2π'"}},"y":{"field":"u","type":"quantitative","title":"new angle bending potential","scale":{"domain":[0,5],"nice":false},"axis":{"values":[0,0.5,1,1.5,2,2.5,3,3.5,4,4.5,5],"tickCount":20,"format":"~g"}},"color":{"field":"eq","type":"nominal","scale":{"domain":[45,60,90,120,135,162,180],"range":["#FF0000","#F5822A","#000000","#2ACB2A","#9C5A25","#0A6EBD","#7030A0"]},"legend":null}}},
{"data":{"name":"newpot"},"transform":[{"filter":{"field":"eq","oneOf":[45,90,135,180]}}],"mark":{"type":"line","clip":true,"interpolate":"monotone","strokeWidth":1.2},"encoding":{"x":{"field":"t","type":"quantitative","scale":{"domain":[0,360],"nice":false,"reverse":true},"axis":null},"y":{"field":"u","type":"quantitative","title":"new angle bending potential"},"color":{"field":"eq","type":"nominal","scale":{"domain":[45,60,90,120,135,162,180],"range":["#FF0000","#F5822A","#000000","#2ACB2A","#9C5A25","#0A6EBD","#7030A0"]},"legend":null}}},
{"data":{"values":[{}]},"mark":{"type":"text","text":"The new potential is","fontSize":11,"font":"Lato"},"encoding":{"x":{"datum":180,"scale":{"domain":[0,360],"nice":false},"axis":null},"y":{"datum":3.88}}},
{"data":{"values":[{}]},"mark":{"type":"text","text":"symmetric about θ = π.","fontSize":11,"font":"Lato"},"encoding":{"x":{"datum":180,"scale":{"domain":[0,360],"nice":false},"axis":null},"y":{"datum":3.53}}}
]}
],"spacing":10}
],"spacing":8},
{"hconcat":[
{"width":43,"height":407,"view":{"stroke":null},"data":{"values":[{}]},"mark":{"type":"point","opacity":0},"encoding":{}},
{"width":624,"height":407,"view":{"stroke":"#000","strokeWidth":2.5},"layer":[
{"data":{"name":"newpot"},"mark":{"type":"line","clip":true,"interpolate":"monotone","strokeWidth":2},"encoding":{"x":{"field":"t","type":"quantitative","title":"angle (θ)","scale":{"domain":[0,180],"nice":false},"axis":{"values":[0,45,60,90,120,135,162,180],"tickCount":20,"labelExpr":"datum.value==0?'0':datum.value==45?'π/4':datum.value==60?'π/3':datum.value==90?'π/2':datum.value==120?'2π/3':datum.value==135?'3π/4':datum.value==162?'9π/10':'π'","labelFontSize":21,"titleFontSize":22,"tickSize":7,"tickWidth":2,"domainWidth":2.5,"labelPadding":6,"titlePadding":12}},"y":{"field":"u","type":"quantitative","title":"new angle bending potential","scale":{"domain":[0,5],"nice":false},"axis":{"values":[0,0.5,1,1.5,2,2.5,3,3.5,4,4.5,5],"tickCount":20,"format":"~g","labelFontSize":21,"titleFontSize":22,"tickSize":7,"tickWidth":2,"domainWidth":2.5,"labelPadding":3,"titlePadding":20}},"color":{"field":"eq","type":"nominal","scale":{"domain":[45,60,90,120,135,162,180],"range":["#FF0000","#F5822A","#000000","#2ACB2A","#9C5A25","#0A6EBD","#7030A0"]},"legend":null}}},
{"data":{"name":"std"},"mark":{"type":"line","clip":true,"interpolate":"monotone","strokeWidth":2,"strokeDash":[7,5]},"encoding":{"x":{"field":"t","type":"quantitative","title":"angle (θ)"},"y":{"field":"h","type":"quantitative","title":"new angle bending potential"},"color":{"field":"eq","type":"nominal","scale":{"domain":[45,60,90,120,135,162,180],"range":["#FF0000","#F5822A","#000000","#2ACB2A","#9C5A25","#0A6EBD","#7030A0"]},"legend":null}}},
{"data":{"values":[{}]},"mark":{"type":"rect","fill":"white","opacity":0.7},"encoding":{"x":{"datum":47},"x2":{"datum":172},"y":{"datum":2.65},"y2":{"datum":4.8}}},
{"data":{"values":[{}]},"mark":{"type":"text","text":"U[θ]","fontSize":24},"encoding":{"x":{"datum":55.4},"y":{"datum":4.61}}},
{"data":{"values":[{}]},"mark":{"type":"rule","color":"#000","strokeWidth":1.5},"encoding":{"x":{"datum":49},"x2":{"datum":62},"y":{"datum":4.42}}},
{"data":{"values":[{}]},"mark":{"type":"text","text":"k","fontSize":24},"encoding":{"x":{"datum":55.4},"y":{"datum":4.2}}},
{"data":{"values":[{}]},"mark":{"type":"text","text":"=","fontSize":24,"align":"left"},"encoding":{"x":{"datum":63.5},"y":{"datum":4.42}}},
{"data":{"values":[{}]},"mark":{"type":"text","text":"2(cosθ − cosθ","fontSize":24,"align":"left"},"encoding":{"x":{"datum":95.5},"y":{"datum":4.63}}},
{"data":{"values":[{}]},"mark":{"type":"text","text":"eq","fontSize":15,"align":"left"},"encoding":{"x":{"datum":134},"y":{"datum":4.55}}},
{"data":{"values":[{}]},"mark":{"type":"text","text":")","fontSize":24,"align":"left"},"encoding":{"x":{"datum":138.1},"y":{"datum":4.63}}},
{"data":{"values":[{}]},"mark":{"type":"text","text":"2","fontSize":15,"align":"left"},"encoding":{"x":{"datum":140.6},"y":{"datum":4.76}}},
{"data":{"values":[{}]},"mark":{"type":"rule","color":"#000","strokeWidth":1.5},"encoding":{"x":{"datum":68.4},"x2":{"datum":168.8},"y":{"datum":4.4}}},
{"data":{"values":[{}]},"mark":{"type":"text","text":"sin²θ + 3sin²θ","fontSize":24,"align":"left"},"encoding":{"x":{"datum":68.4},"y":{"datum":3.91}}},
{"data":{"values":[{}]},"mark":{"type":"text","text":"eq","fontSize":15,"align":"left"},"encoding":{"x":{"datum":106},"y":{"datum":3.83}}},
{"data":{"values":[{}]},"mark":{"type":"text","text":"(","fontSize":58,"align":"left"},"encoding":{"x":{"datum":111},"y":{"datum":3.88}}},
{"data":{"values":[{}]},"mark":{"type":"text","text":"tanh[2sin[θ/2]]","fontSize":22},"encoding":{"x":{"datum":140},"y":{"datum":4.09}}},
{"data":{"values":[{}]},"mark":{"type":"rule","color":"#000","strokeWidth":1.5},"encoding":{"x":{"datum":116.5},"x2":{"datum":163.5},"y":{"datum":3.88}}},
{"data":{"values":[{}]},"mark":{"type":"text","text":"tanh[2sin[θ","fontSize":22,"align":"left"},"encoding":{"x":{"datum":119.2},"y":{"datum":3.66}}},
{"data":{"values":[{}]},"mark":{"type":"text","text":"eq","fontSize":14,"align":"left"},"encoding":{"x":{"datum":148.1},"y":{"datum":3.59}}},
{"data":{"values":[{}]},"mark":{"type":"text","text":"/2]]","fontSize":22,"align":"left"},"encoding":{"x":{"datum":151.9},"y":{"datum":3.66}}},
{"data":{"values":[{}]},"mark":{"type":"text","text":")","fontSize":58,"align":"left"},"encoding":{"x":{"datum":165},"y":{"datum":3.88}}},
{"data":{"values":[{}]},"mark":{"type":"text","text":"U[θ]","fontSize":24},"encoding":{"x":{"datum":55.4},"y":{"datum":3.11}}},
{"data":{"values":[{}]},"mark":{"type":"rule","color":"#000","strokeWidth":1.5},"encoding":{"x":{"datum":49},"x2":{"datum":62},"y":{"datum":2.93}}},
{"data":{"values":[{}]},"mark":{"type":"text","text":"k","fontSize":24},"encoding":{"x":{"datum":55.4},"y":{"datum":2.74}}},
{"data":{"values":[{}]},"mark":{"type":"text","text":"= ½(θ − θ","fontSize":24,"align":"left"},"encoding":{"x":{"datum":63.5},"y":{"datum":2.93}}},
{"data":{"values":[{}]},"mark":{"type":"text","text":"eq","fontSize":15,"align":"left"},"encoding":{"x":{"datum":90.9},"y":{"datum":2.85}}},
{"data":{"values":[{}]},"mark":{"type":"text","text":")","fontSize":24,"align":"left"},"encoding":{"x":{"datum":95.0},"y":{"datum":2.93}}},
{"data":{"values":[{}]},"mark":{"type":"text","text":"2","fontSize":15,"align":"left"},"encoding":{"x":{"datum":97.4},"y":{"datum":3.05}}},
{"data":{"values":[{}]},"mark":{"type":"text","text":"harmonic bend (dashed lines)","fontSize":21,"align":"left"},"encoding":{"x":{"datum":104},"y":{"datum":2.93}}}
]}
],"bounds":"flush","spacing":0}
],
"columns":1,"spacing":0
}
